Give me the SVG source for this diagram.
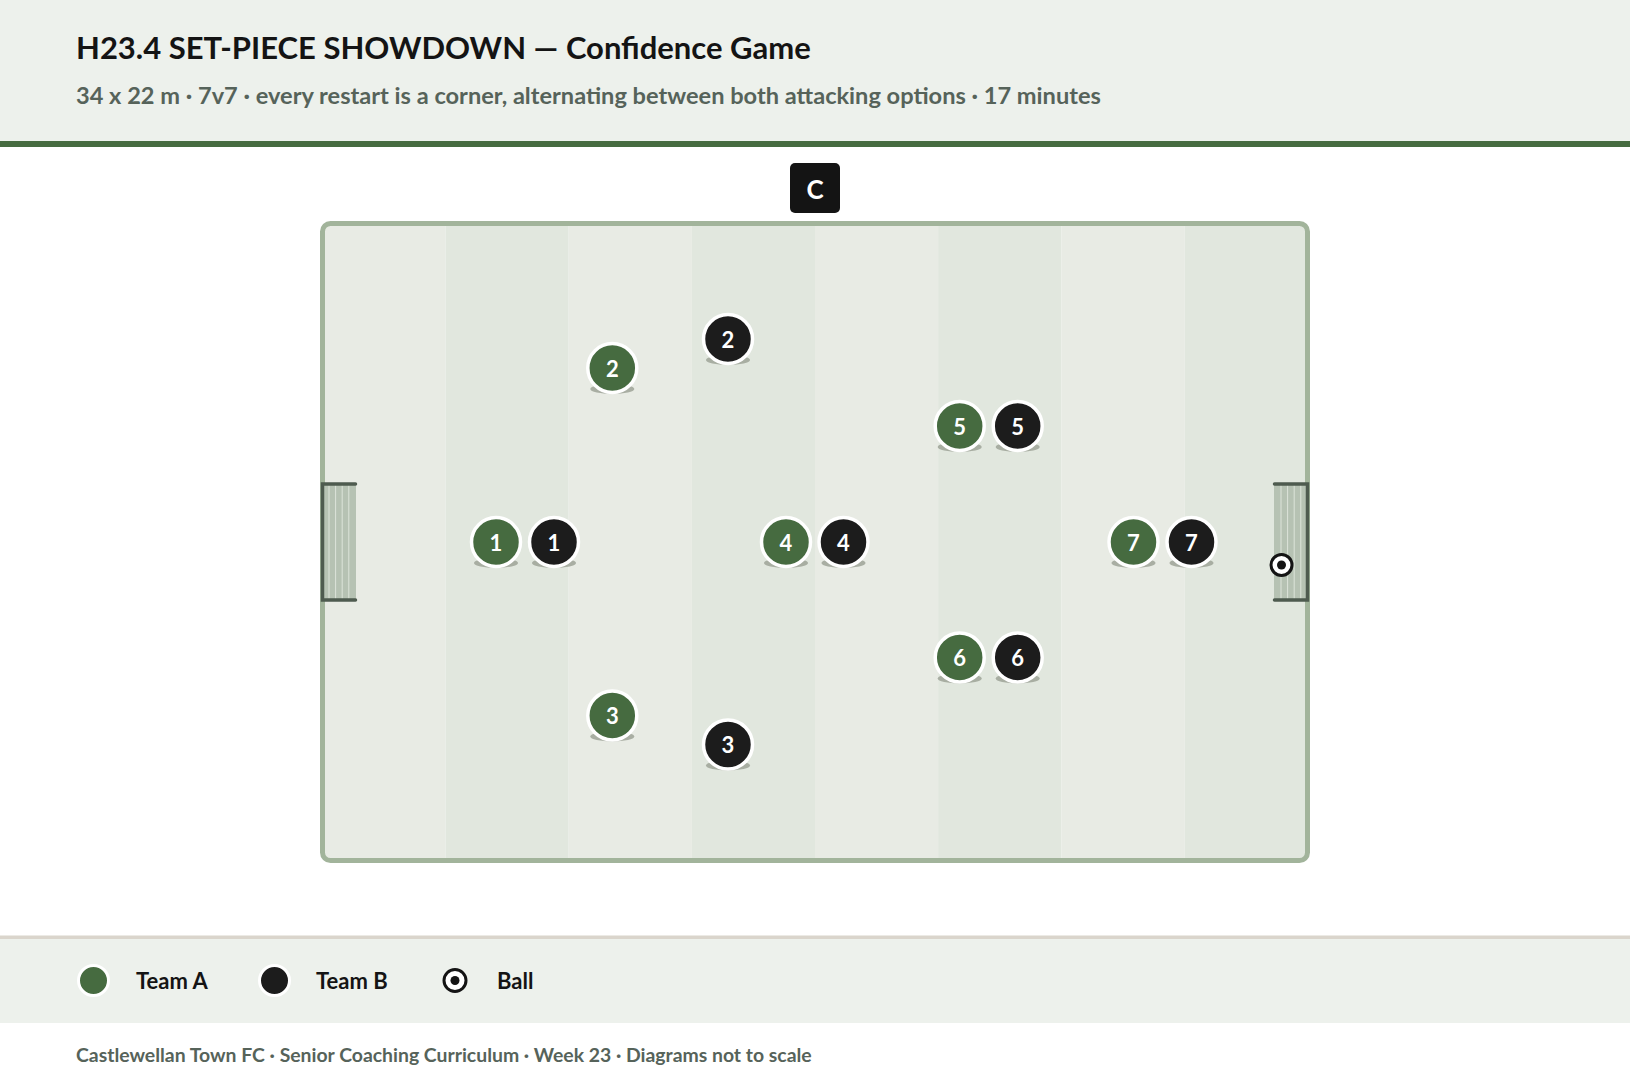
<svg xmlns="http://www.w3.org/2000/svg" width="1630" height="1080" viewBox="0 0 1630 1080">
<defs>
<style>
text{font-family:Lato,"Liberation Sans",sans-serif;}
.title{font-size:31px;font-weight:700;fill:#141414;}
.sub{font-size:23.6px;font-weight:700;fill:#56635a;}
.foot{font-size:19.4px;font-weight:700;fill:#56635a;}
.leg{font-size:22px;font-weight:700;fill:#141414;}
.stL{fill:#e8ebe4;}
.stD{fill:#e1e7de;}
.shadow{fill:#9ea398;opacity:0.85;}
.pA{fill:#466b40;stroke:#ffffff;stroke-width:3.5;}
.pB{fill:#1c1c1c;stroke:#ffffff;stroke-width:3.5;}
.num{font-size:22px;font-weight:700;fill:#ffffff;text-anchor:middle;dominant-baseline:central;}
.net{fill:#b6c2b3;}
.netline{stroke:#dde4da;stroke-width:1;}
.frame{stroke:#4e5b4f;stroke-width:3.5;fill:none;stroke-linecap:round;}
</style>
<clipPath id="pitchClip"><rect x="322.5" y="223.5" width="985" height="637" rx="8"/></clipPath>
</defs>
<rect x="0" y="0" width="1630" height="1080" fill="#ffffff"/>
<g id="header">
<rect x="0" y="0" width="1630" height="142" fill="#edf1ec"/>
<rect x="0" y="141" width="1630" height="6" fill="#466b40"/>
<text class="title" x="76" y="59">H23.4 SET-PIECE SHOWDOWN — Confidence Game</text>
<text class="sub" x="76" y="104">34 x 22 m · 7v7 · every restart is a corner, alternating between both attacking options · 17 minutes</text>
</g>
<g id="pitch">
<g clip-path="url(#pitchClip)">
<rect class="stL" x="322.5" y="223.5" width="123.1" height="637"/>
<rect class="stD" x="445.6" y="223.5" width="123.1" height="637"/>
<rect class="stL" x="568.7" y="223.5" width="123.2" height="637"/>
<rect class="stD" x="691.9" y="223.5" width="123.1" height="637"/>
<rect class="stL" x="815" y="223.5" width="123.1" height="637"/>
<rect class="stD" x="938.1" y="223.5" width="123.2" height="637"/>
<rect class="stL" x="1061.3" y="223.5" width="123.1" height="637"/>
<rect class="stD" x="1184.4" y="223.5" width="123.1" height="637"/>
</g>
<rect x="322.5" y="223.5" width="985" height="637" rx="8" fill="none" stroke="#a2b49b" stroke-width="5"/>
</g>
<g id="goal-left">
<rect class="net" x="322.5" y="484" width="33.5" height="116"/>
<line class="netline" x1="329" y1="484" x2="329" y2="600"/>
<line class="netline" x1="335.6" y1="484" x2="335.6" y2="600"/>
<line class="netline" x1="342.2" y1="484" x2="342.2" y2="600"/>
<line class="netline" x1="348.8" y1="484" x2="348.8" y2="600"/>
<path class="frame" d="M355.5 484 H322.5 V600 H355.5"/>
</g>
<g id="goal-right">
<rect class="net" x="1274" y="484" width="33.5" height="116"/>
<line class="netline" x1="1281" y1="484" x2="1281" y2="600"/>
<line class="netline" x1="1287.6" y1="484" x2="1287.6" y2="600"/>
<line class="netline" x1="1294.2" y1="484" x2="1294.2" y2="600"/>
<line class="netline" x1="1300.8" y1="484" x2="1300.8" y2="600"/>
<path class="frame" d="M1274.5 484 H1307.5 V600 H1274.5"/>
</g>
<g id="coach">
<rect x="790" y="163" width="50" height="50" rx="5" fill="#141414"/>
<text x="815" y="189" font-size="26" font-weight="700" fill="#ffffff" text-anchor="middle" dominant-baseline="central">C</text>
</g>
<g id="connectors"></g>
<g id="teamA">
<g id="A1"><ellipse class="shadow" cx="496" cy="563" rx="22" ry="5"/><circle class="pA" cx="496" cy="542" r="24.5"/><text class="num" x="496" y="542">1</text></g>
<g id="A2"><ellipse class="shadow" cx="612.3" cy="389" rx="22" ry="5"/><circle class="pA" cx="612.3" cy="368" r="24.5"/><text class="num" x="612.3" y="368">2</text></g>
<g id="A3"><ellipse class="shadow" cx="612.3" cy="736.5" rx="22" ry="5"/><circle class="pA" cx="612.3" cy="715.5" r="24.5"/><text class="num" x="612.3" y="715.5">3</text></g>
<g id="A4"><ellipse class="shadow" cx="786" cy="563" rx="22" ry="5"/><circle class="pA" cx="786" cy="542" r="24.5"/><text class="num" x="786" y="542">4</text></g>
<g id="A5"><ellipse class="shadow" cx="959.7" cy="447" rx="22" ry="5"/><circle class="pA" cx="959.7" cy="426" r="24.5"/><text class="num" x="959.7" y="426">5</text></g>
<g id="A6"><ellipse class="shadow" cx="959.7" cy="678.5" rx="22" ry="5"/><circle class="pA" cx="959.7" cy="657.5" r="24.5"/><text class="num" x="959.7" y="657.5">6</text></g>
<g id="A7"><ellipse class="shadow" cx="1133.5" cy="563" rx="22" ry="5"/><circle class="pA" cx="1133.5" cy="542" r="24.5"/><text class="num" x="1133.5" y="542">7</text></g>
</g>
<g id="teamB">
<g id="B1"><ellipse class="shadow" cx="554" cy="563" rx="22" ry="5"/><circle class="pB" cx="554" cy="542" r="24.5"/><text class="num" x="554" y="542">1</text></g>
<g id="B2"><ellipse class="shadow" cx="728" cy="360" rx="22" ry="5"/><circle class="pB" cx="728" cy="339" r="24.5"/><text class="num" x="728" y="339">2</text></g>
<g id="B3"><ellipse class="shadow" cx="728" cy="765.5" rx="22" ry="5"/><circle class="pB" cx="728" cy="744.5" r="24.5"/><text class="num" x="728" y="744.5">3</text></g>
<g id="B4"><ellipse class="shadow" cx="843.5" cy="563" rx="22" ry="5"/><circle class="pB" cx="843.5" cy="542" r="24.5"/><text class="num" x="843.5" y="542">4</text></g>
<g id="B5"><ellipse class="shadow" cx="1017.7" cy="447" rx="22" ry="5"/><circle class="pB" cx="1017.7" cy="426" r="24.5"/><text class="num" x="1017.7" y="426">5</text></g>
<g id="B6"><ellipse class="shadow" cx="1017.7" cy="678.5" rx="22" ry="5"/><circle class="pB" cx="1017.7" cy="657.5" r="24.5"/><text class="num" x="1017.7" y="657.5">6</text></g>
<g id="B7"><ellipse class="shadow" cx="1191.5" cy="563" rx="22" ry="5"/><circle class="pB" cx="1191.5" cy="542" r="24.5"/><text class="num" x="1191.5" y="542">7</text></g>
</g>
<g id="ball">
<circle cx="1281.5" cy="565" r="10.5" fill="#ffffff" stroke="#141414" stroke-width="3"/>
<circle cx="1281.5" cy="565" r="4.5" fill="#141414"/>
</g>
<g id="legend">
<rect x="0" y="935.5" width="1630" height="3.5" fill="#dad5cc"/>
<rect x="0" y="939" width="1630" height="84" fill="#edf1ec"/>
<circle cx="93.5" cy="980.5" r="15" fill="#466b40" stroke="#ffffff" stroke-width="3"/>
<text class="leg" x="136" y="988.5">Team A</text>
<circle cx="274.5" cy="980.5" r="15" fill="#1c1c1c" stroke="#ffffff" stroke-width="3"/>
<text class="leg" x="316" y="988.5">Team B</text>
<circle cx="455" cy="980.5" r="11" fill="#ffffff" stroke="#141414" stroke-width="3"/>
<circle cx="455" cy="980.5" r="4.5" fill="#141414"/>
<text class="leg" x="497" y="988.5">Ball</text>
</g>
<g id="footer">
<text class="foot" x="76" y="1062">Castlewellan Town FC · Senior Coaching Curriculum · Week 23 · Diagrams not to scale</text>
</g>
</svg>
